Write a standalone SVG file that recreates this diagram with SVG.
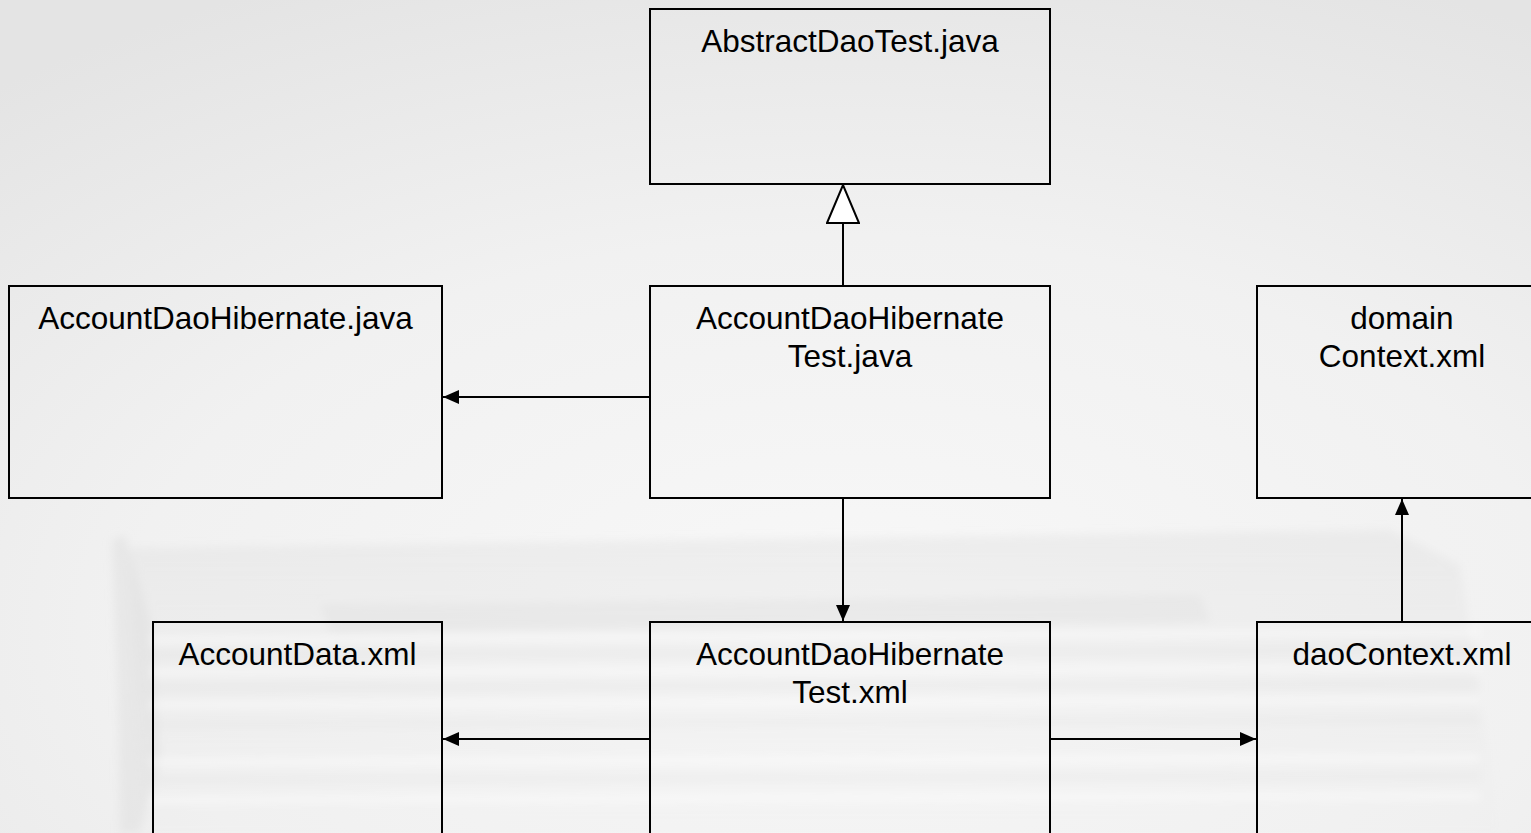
<svg xmlns="http://www.w3.org/2000/svg" width="1531" height="833" viewBox="0 0 1531 833">
  <defs>
    <radialGradient id="bg" cx="0.55" cy="0.75" r="0.85">
      <stop offset="0" stop-color="#f8f8f8"/>
      <stop offset="0.55" stop-color="#f1f1f1"/>
      <stop offset="1" stop-color="#e4e4e4"/>
    </radialGradient>
    <linearGradient id="stackTop" x1="0" y1="0" x2="0" y2="1">
      <stop offset="0" stop-color="#dcdcdc" stop-opacity="0.35"/>
      <stop offset="1" stop-color="#e8e8e8" stop-opacity="0.1"/>
    </linearGradient>
    <filter id="soft" x="-10%" y="-10%" width="120%" height="120%">
      <feGaussianBlur stdDeviation="4"/>
    </filter>
    <marker id="solid" viewBox="0 0 16 14" refX="16" refY="7" markerWidth="16" markerHeight="14" markerUnits="userSpaceOnUse" orient="auto">
      <path d="M0,0 L16,7 L0,14 Z" fill="#000"/>
    </marker>
    <marker id="hollow" viewBox="0 0 40 34" refX="39" refY="17" markerWidth="40" markerHeight="34" markerUnits="userSpaceOnUse" orient="auto">
      <path d="M1,1 L39,17 L1,33 Z" fill="#fff" stroke="#000" stroke-width="2"/>
    </marker>
    <style>
      .box { fill: none; stroke: #000; stroke-width: 2; }
      .lbl { font-family: "Liberation Sans", Arial, sans-serif; font-size: 31.5px; fill: #000; text-anchor: middle; }
      .edge { stroke: #000; stroke-width: 2; fill: none; }
    </style>
  </defs>

  <!-- backdrop: soft grey wash with a faint stack of papers -->
  <rect x="0" y="0" width="1531" height="833" fill="url(#bg)"/>
  <g id="backdrop" filter="url(#soft)">
    <path d="M130,548 L1390,530 L1460,565 L1500,833 L140,833 Z" fill="url(#stackTop)"/>
    <path d="M112,540 L125,535 L150,620 L160,760 L140,833 L120,833 L118,700 Z" fill="#d8d8d8" opacity="0.35"/>
    <path d="M320,605 L1200,595 L1210,622 L330,632 Z" fill="#dedede" opacity="0.35"/>
    <g stroke="#ffffff" stroke-width="5" opacity="0.6">
      <line x1="150" y1="640" x2="1480" y2="632"/>
      <line x1="150" y1="672" x2="1480" y2="668"/>
      <line x1="150" y1="705" x2="1480" y2="700"/>
      <line x1="150" y1="762" x2="1480" y2="758"/>
      <line x1="150" y1="800" x2="1480" y2="796"/>
    </g>
    <g stroke="#dcdcdc" stroke-width="4" opacity="0.4">
      <line x1="150" y1="655" x2="1480" y2="650"/>
      <line x1="150" y1="688" x2="1480" y2="684"/>
      <line x1="150" y1="725" x2="1480" y2="720"/>
      <line x1="150" y1="780" x2="1480" y2="776"/>
    </g>
  </g>

  <!-- connectors -->
  <g id="connectors">
    <line class="edge" x1="843" y1="286" x2="843" y2="185" marker-end="url(#hollow)"/>
    <line class="edge" x1="650" y1="397" x2="443" y2="397" marker-end="url(#solid)"/>
    <line class="edge" x1="843" y1="498" x2="843" y2="621" marker-end="url(#solid)"/>
    <line class="edge" x1="650" y1="739" x2="443" y2="739" marker-end="url(#solid)"/>
    <line class="edge" x1="1050" y1="739" x2="1256" y2="739" marker-end="url(#solid)"/>
    <line class="edge" x1="1402" y1="622" x2="1402" y2="499" marker-end="url(#solid)"/>
  </g>

  <!-- nodes -->
  <g id="abstractDaoTest">
    <rect class="box" x="650" y="9" width="400" height="175"/>
    <text class="lbl" x="850" y="52">AbstractDaoTest.java</text>
  </g>
  <g id="accountDaoHibernate">
    <rect class="box" x="9" y="286" width="433" height="212"/>
    <text class="lbl" x="225.5" y="329">AccountDaoHibernate.java</text>
  </g>
  <g id="accountDaoHibernateTestJava">
    <rect class="box" x="650" y="286" width="400" height="212"/>
    <text class="lbl" x="850" y="329">AccountDaoHibernate</text>
    <text class="lbl" x="850" y="367">Test.java</text>
  </g>
  <g id="domainContext">
    <rect class="box" x="1257" y="286" width="290" height="212"/>
    <text class="lbl" x="1402" y="329">domain</text>
    <text class="lbl" x="1402" y="367">Context.xml</text>
  </g>
  <g id="accountData">
    <rect class="box" x="153" y="622" width="289" height="230"/>
    <text class="lbl" x="297.5" y="665">AccountData.xml</text>
  </g>
  <g id="accountDaoHibernateTestXml">
    <rect class="box" x="650" y="622" width="400" height="230"/>
    <text class="lbl" x="850" y="665">AccountDaoHibernate</text>
    <text class="lbl" x="850" y="703">Test.xml</text>
  </g>
  <g id="daoContext">
    <rect class="box" x="1257" y="622" width="290" height="230"/>
    <text class="lbl" x="1402" y="665">daoContext.xml</text>
  </g>
</svg>
